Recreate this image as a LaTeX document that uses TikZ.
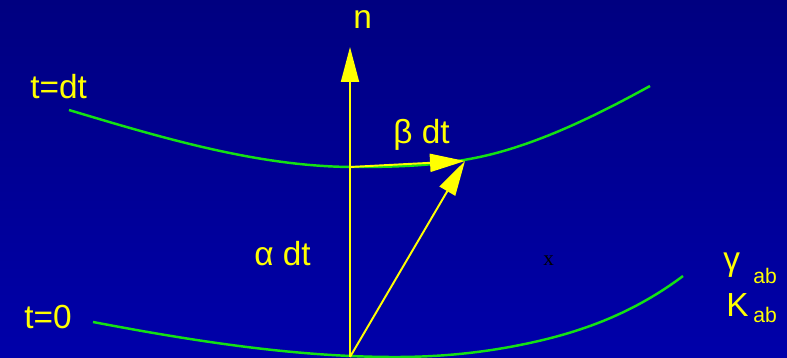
\documentclass[tikz,border=0pt]{standalone}
\usepackage{fontspec}
\setmainfont{Liberation Sans}
\newfontfamily\markfont{Liberation Serif}
\usetikzlibrary{arrows.meta}
\definecolor{slidetop}{RGB}{0,0,128}
\definecolor{slidebot}{RGB}{0,0,170}
\definecolor{leaf}{RGB}{20,225,20}
\definecolor{lemon}{RGB}{255,255,0}

\begin{document}
\begin{tikzpicture}[x=0.02cm, y=-0.02cm,
  slice/.style={leaf, line width=1.4pt},
  vec/.style={lemon, line width=1.1pt, -{Triangle[length=0.7cm, width=0.36cm]}},
  lbl/.style={lemon, anchor=base west, inner sep=0pt, font=\fontsize{19}{21}\selectfont},
  idx/.style={lemon, anchor=base west, inner sep=0pt, font=\fontsize{12}{14}\selectfont}]
  \useasboundingbox (0,0) rectangle (787,358);
  \shade[top color=slidetop, bottom color=slidebot] (0,0) rectangle (787,358);
  % slices t=dt and t=0
  \draw[slice] (69,110) .. controls (164,138.5) and (260,167) .. (355,167)
    .. controls (403,167) and (452,165.4) .. (500,152)
    .. controls (550,138) and (600,113.5) .. (650,86);
  \draw[slice] (93,322) .. controls (193,341) and (295,357) .. (395,357)
    .. controls (437,357) and (478,353.4) .. (520,345)
    .. controls (574,334.2) and (629,316.5) .. (683,276);
  \coordinate (O) at (350,357);
  \coordinate (N) at (350,47);
  \coordinate (A) at (350,167);
  \coordinate (B) at (465,161);
  \draw[vec] (O) -- (N);
  \draw[vec] (A) -- (B);
  \draw[vec] (O) -- (B);
  \node[lbl] (n) at (353,29) {n};
  \node[lbl] (beta) at (393,143) {β dt};
  \node[lbl] (alpha) at (254,265) {α dt};
  \node[lbl] (tdt) at (30,98) {t=dt};
  \node[lbl] (tzero) at (24,328) {t=0};
  \node[lbl] (gam) at (723,270) {γ};
  \node[idx] (gamab) at (753,283) {ab};
  \node[lbl] (kay) at (726,316) {K};
  \node[idx] (kayab) at (753,322) {ab};
  \node[anchor=base west, inner sep=0pt, font=\markfont\fontsize{12}{14}\selectfont] (mark) at (543,265) {x};
\end{tikzpicture}
\end{document}
